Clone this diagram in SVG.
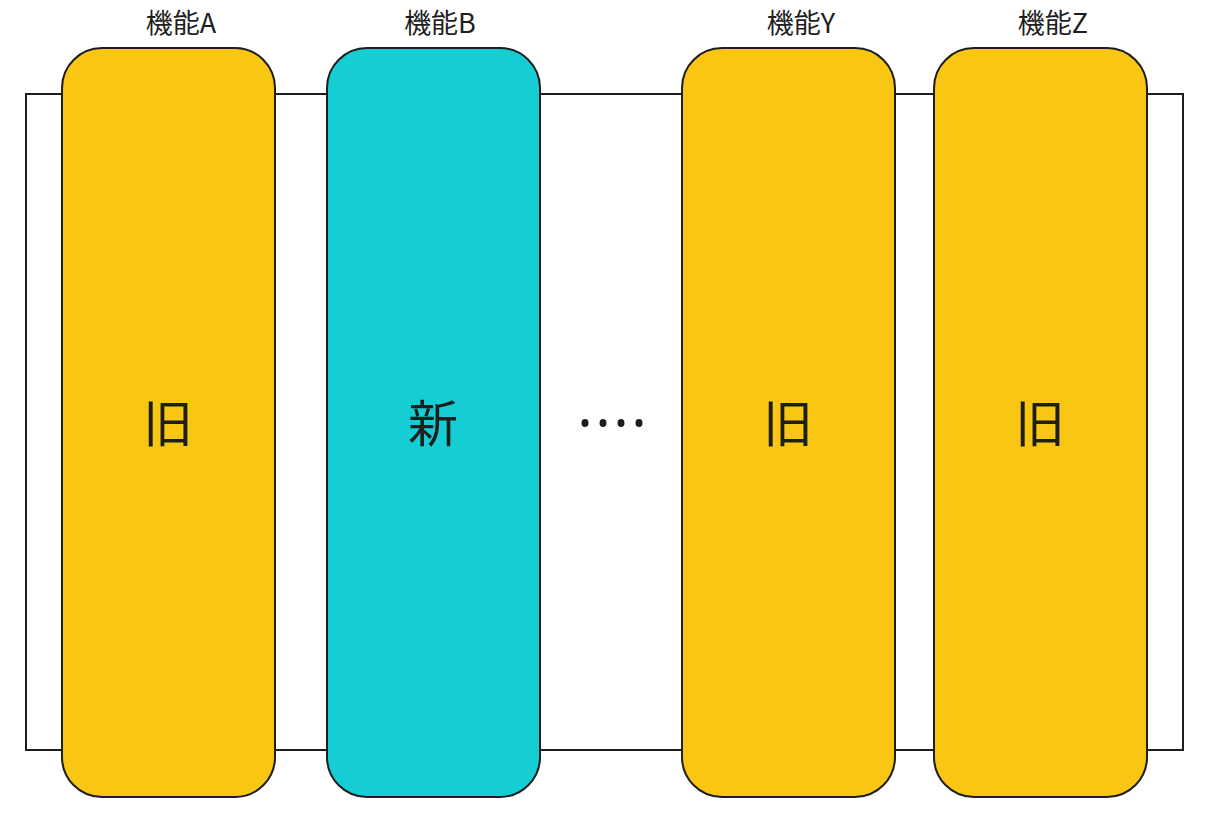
<svg xmlns="http://www.w3.org/2000/svg" width="1210" height="826" viewBox="0 0 1210 826">
<style>
.col{stroke:#1e1e1e;stroke-width:2}
.old{fill:#f8c613}
.new{fill:#14ced4}
.lbl{font-family:"Noto Sans CJK JP","Noto Sans",sans-serif;font-size:27px;fill:#1e1e1e;text-anchor:middle}
.big{font-family:"Noto Sans CJK JP",sans-serif;font-size:50px;fill:#1e1e1e;text-anchor:middle}
</style>
<rect width="1210" height="826" fill="#fff"/>
<g id="frame"><rect x="26" y="94" width="1157" height="656" fill="#fff" stroke="#1e1e1e" stroke-width="2"/></g>
<g id="colA"><rect class="col old" x="62" y="48" width="213" height="749" rx="40"/><text class="lbl" x="181" y="33">機能A</text><text class="big" x="168" y="442">旧</text></g>
<g id="colB"><rect class="col new" x="327" y="48" width="213" height="749" rx="40"/><text class="lbl" x="440" y="33">機能B</text><text class="big" x="433" y="442">新</text></g>
<g id="dots" fill="#1e1e1e"><ellipse cx="585" cy="423" rx="3.5" ry="4"/><ellipse cx="603" cy="423" rx="3.5" ry="4"/><ellipse cx="621" cy="423" rx="3.5" ry="4"/><ellipse cx="639" cy="423" rx="3.5" ry="4"/></g>
<g id="colY"><rect class="col old" x="682" y="48" width="213" height="749" rx="40"/><text class="lbl" x="801" y="33">機能Y</text><text class="big" x="788" y="442">旧</text></g>
<g id="colZ"><rect class="col old" x="934" y="48" width="213" height="749" rx="40"/><text class="lbl" x="1053" y="33">機能Z</text><text class="big" x="1040" y="442">旧</text></g>
<g id="connectors"/>
</svg>
